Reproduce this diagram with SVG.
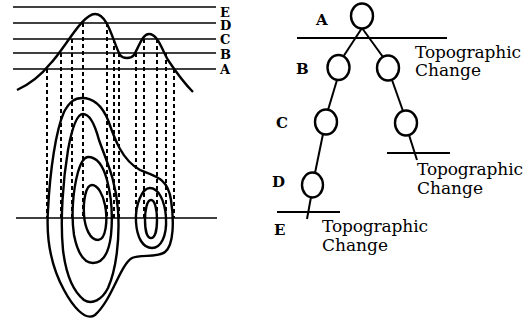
<svg xmlns="http://www.w3.org/2000/svg" width="528" height="322" viewBox="0 0 528 322">
<style>
.ln{stroke:#000;stroke-width:2;fill:none}
.cut{stroke:#000;stroke-width:1.6;fill:none}
.dash{stroke:#000;stroke-width:2;fill:none;stroke-dasharray:4 3}
.ct{stroke:#000;stroke-width:2.4;fill:none}
.nd{stroke:#000;stroke-width:2.4;fill:#fff}
.lb{font-family:"DejaVu Serif","Liberation Serif",serif;font-weight:bold;font-size:15px;fill:#000}
.lv{font-family:"DejaVu Serif","Liberation Serif",serif;font-weight:bold;font-size:13px;fill:#000}
.tx{font-family:"DejaVu Serif","Liberation Serif",serif;font-size:17px;fill:#000}
</style>
<rect width="528" height="322" fill="#fff"/>
<g id="profile-levels">
<line class="cut" x1="13" y1="7" x2="216" y2="7"/>
<line class="cut" x1="13" y1="23" x2="216" y2="23"/>
<line class="cut" x1="13" y1="39" x2="216" y2="39"/>
<line class="cut" x1="13" y1="53" x2="216" y2="53"/>
<line class="cut" x1="13" y1="69" x2="216" y2="69"/>
<text class="lv"><tspan x="220" y="17">E</tspan><tspan x="220" y="30">D</tspan><tspan x="220" y="44">C</tspan><tspan x="220" y="59">B</tspan><tspan x="220" y="74">A</tspan></text>
</g>
<g id="profile">
<path class="ct" d="M17,90 C30,84 42,74 50,64 C64,50 82,14 95,14 C108,14 113,42 120,55 C123,59 131,59 134,55 C140,44 143,34 149,34 C158,34 162,50 168,60 C176,72 185,84 193,92"/>
</g>
<g id="projections">
<line class="dash" x1="47" y1="69" x2="47" y2="218"/>
<line class="dash" x1="61" y1="53" x2="61" y2="218"/>
<line class="dash" x1="72" y1="39" x2="72" y2="218"/>
<line class="dash" x1="83" y1="23" x2="83" y2="218"/>
<line class="dash" x1="107" y1="23" x2="107" y2="218"/>
<line class="dash" x1="114" y1="39" x2="114" y2="218"/>
<line class="dash" x1="119" y1="53" x2="119" y2="218"/>
<line class="dash" x1="136" y1="53" x2="136" y2="218"/>
<line class="dash" x1="144" y1="39" x2="144" y2="218"/>
<line class="dash" x1="157" y1="39" x2="157" y2="218"/>
<line class="dash" x1="166" y1="53" x2="166" y2="218"/>
<line class="dash" x1="174" y1="69" x2="174" y2="218"/>
</g>
<g id="contours">
<path class="ct" d="M82,98 C95,98 103,108 108,120 C115,140 122,160 140,170 C155,176 168,178 171,200 C174,220 174,245 165,252 C158,258 140,254 132,258 C120,265 112,300 95,315 C85,322 72,305 64,290 C52,268 46,240 48,210 C50,170 56,130 64,112 C70,101 75,98 82,98 Z"/>
<path class="ct" d="M83,114 C90,114 95,125 99,140 C106,160 116,180 118,210 C120,240 116,270 108,288 C102,300 92,305 84,300 C74,292 66,275 63,250 C60,220 63,180 68,150 C72,128 77,114 83,114 Z"/>
<path class="ct" d="M88,157 C97,157 103,165 107,180 C111,195 113,215 111,235 C109,252 103,263 93,263 C83,263 77,250 74,235 C71,215 73,190 78,172 C81,162 84,157 88,157 Z"/>
<path class="ct" d="M92,185 C98,185 103,195 105,205 C108,220 106,240 98,240 C90,240 85,228 84,215 C83,200 86,185 92,185 Z"/>
<path class="ct" d="M150,188 C158,188 165,200 166,218 C167,236 161,248 152,248 C143,248 137,238 136,222 C135,205 142,188 150,188 Z"/>
<path class="ct" d="M151,200 C155,200 157,210 157,220 C157,230 155,238 151,238 C147,238 145,230 145,220 C145,210 147,200 151,200 Z"/>
<line class="cut" x1="16" y1="218" x2="217" y2="218"/>
</g>
<g id="connectors">
<line class="ln" x1="362" y1="28" x2="343" y2="57"/>
<line class="ln" x1="362" y1="28" x2="383" y2="57"/>
<line class="ln" x1="337" y1="80" x2="328" y2="110"/>
<line class="ln" x1="392" y1="80" x2="403" y2="111"/>
<line class="ln" x1="323" y1="134" x2="315" y2="173"/>
<line class="ln" x1="311" y1="197" x2="307" y2="219"/>
<line class="ln" x1="409" y1="135" x2="417" y2="160"/>
<line class="ln" x1="297" y1="38" x2="447" y2="38"/>
<line class="ln" x1="387" y1="153" x2="450" y2="153"/>
<line class="ln" x1="277" y1="212" x2="340" y2="212"/>
</g>
<g id="node-A"><ellipse class="nd" cx="362" cy="16" rx="11" ry="12.5"/><text class="lb" x="316" y="25">A</text></g>
<g id="node-B"><ellipse class="nd" cx="338.5" cy="67.5" rx="11" ry="12.5"/><text class="lb" x="296" y="74">B</text></g>
<g id="node-B2"><ellipse class="nd" cx="388" cy="68" rx="11" ry="12.5"/></g>
<g id="node-C"><ellipse class="nd" cx="326" cy="122" rx="11" ry="12.5"/><text class="lb" x="276" y="128">C</text></g>
<g id="node-C2"><ellipse class="nd" cx="406" cy="123" rx="11" ry="12.5"/></g>
<g id="node-D"><ellipse class="nd" cx="312.5" cy="185" rx="10.5" ry="12.5"/><text class="lb" x="272" y="187">D</text></g>
<g id="label-E"><text class="lb" x="274" y="235">E</text></g>
<g id="topo-1"><text class="tx"><tspan x="415" y="58" textLength="106" lengthAdjust="spacing">Topographic</tspan><tspan x="415" y="76">Change</tspan></text></g>
<g id="topo-2"><text class="tx"><tspan x="417" y="175" textLength="106" lengthAdjust="spacing">Topographic</tspan><tspan x="417" y="194">Change</tspan></text></g>
<g id="topo-3"><text class="tx"><tspan x="322" y="232" textLength="106" lengthAdjust="spacing">Topographic</tspan><tspan x="322" y="251">Change</tspan></text></g>
</svg>
